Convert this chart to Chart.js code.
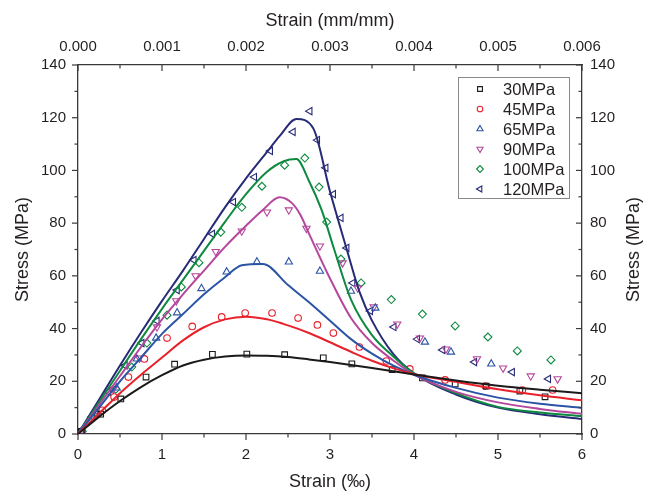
<!DOCTYPE html>
<html>
<head>
<meta charset="utf-8">
<script src="https://cdn.jsdelivr.net/npm/chart.js@4/dist/chart.umd.min.js"></script>
<style>
    html, body { margin: 0; padding: 0; background: #fff; }
    #wrap { width: 656px; height: 495px; }
</style>
</head>
<body>
<div id="wrap"><canvas id="stress-chart" width="656" height="495"></canvas></div>
<script>
// tick labels
var strainTicks = [0, 1, 2, 3, 4, 5, 6];
var strainMmTicks = ['0.000', '0.001', '0.002', '0.003', '0.004', '0.005', '0.006'];
var stressTicks = [0, 20, 40, 60, 80, 100, 120, 140];

var seriesLabels = ['30MPa', '45MPa', '65MPa', '90MPa', '100MPa', '120MPa'];

// model curves, [strain (‰), stress (MPa)]
var model30 = [[0,0],[0.25,6.5],[0.5,12.5],[0.75,17.8],[1,22.3],[1.25,26],[1.5,28.2],[1.75,29.4],[2,29.8],[2.25,29.7],[2.5,29.2],[2.75,28.3],[3,27.3],[3.25,26.2],[3.5,25],[3.75,23.8],[4,22.6],[4.5,20.3],[5,18.3],[5.5,16.8],[6,15.5]];
var model45 = [[0,0],[0.25,7.8],[0.5,15.5],[0.75,22.5],[1,29],[1.25,35.5],[1.5,40.5],[1.75,43.5],[2,44.5],[2.25,43.5],[2.5,41.2],[2.75,38.3],[3,34.8],[3.25,31.2],[3.5,27.8],[3.75,25],[4,22.8],[4.5,19.8],[5,17],[5.5,14.7],[6,12.8]];
var model65 = [[0,0],[0.25,10],[0.5,20],[0.75,29],[1,38],[1.25,45.5],[1.5,53],[1.75,59.5],[1.95,64],[2.2,64.5],[2.5,56.5],[2.75,50],[3,43],[3.25,36],[3.5,30.5],[3.75,26],[4,22.5],[4.5,17.5],[5,13.8],[5.5,11.5],[6,9.9]];
var model90 = [[0,0],[0.25,11],[0.5,22],[0.75,33],[1,43.5],[1.25,53],[1.5,62],[1.75,71],[2,79],[2.2,85],[2.4,89.8],[2.55,87.5],[2.65,83],[2.75,76],[3,59],[3.25,44],[3.5,34.5],[3.75,28],[4,22.5],[4.5,16],[5,12],[5.5,9.5],[6,7.6]];
var model100 = [[0,0],[0.25,12],[0.5,24],[0.75,36],[1,47.5],[1.25,58.5],[1.5,69.5],[1.75,80.5],[2,91],[2.25,99.5],[2.45,103.5],[2.6,104.3],[2.75,96],[2.9,85],[3.05,70],[3.25,51],[3.5,37.5],[3.75,29.5],[4,23],[4.5,15.5],[5,10.3],[5.5,8.2],[6,6.8]];
var model120 = [[0,0],[0.25,13],[0.5,26],[0.75,38.5],[1,50.5],[1.25,62],[1.5,74],[1.75,86],[2,97],[2.25,107],[2.4,113],[2.6,119.5],[2.8,116],[3,92],[3.2,70],[3.35,54],[3.5,43],[3.75,30.5],[4,23],[4.5,15],[5,10],[5.5,7.5],[6,5.7]];

// test points
var test30 = [[0.04,1],[0.27,7.5],[0.51,13.3],[0.81,21.6],[1.15,26.5],[1.6,30.2],[2.01,30.3],[2.46,30.1],[2.92,28.9],[3.26,26.6],[3.74,24.4],[4.1,21.3],[4.49,19],[4.86,18.2],[5.26,16.3],[5.56,14.1]];
var test45 = [[0.05,1],[0.29,9],[0.43,14],[0.6,21.6],[0.79,28.5],[1.06,36.4],[1.36,40.8],[1.71,44.4],[1.99,45.9],[2.31,45.9],[2.62,44],[2.85,41.4],[3.04,38.3],[3.35,33],[3.67,27.7],[3.95,24.7],[4.37,20.5],[4.85,18.2],[5.29,16.7],[5.65,16.7]];
var test65 = [[0.04,1],[0.22,8],[0.46,17.5],[0.7,28.5],[0.93,36.4],[1.18,46],[1.47,55.2],[1.77,61.5],[2.13,65.3],[2.51,65.3],[2.88,61.8],[3.25,54.2],[3.54,47.8],[4.13,34.9],[4.44,31.1],[4.92,26.6]];
var test90 = [[0.04,1],[0.2,7],[0.42,17],[0.73,28.8],[0.94,40.6],[1.17,50.5],[1.4,60],[1.64,69.2],[1.95,77],[2.25,84.2],[2.51,85],[2.72,78],[2.88,71.3],[3.15,64.9],[3.33,55.4],[3.52,48.2],[3.8,41.7],[4.07,36.4],[4.38,32.2],[4.75,28.5],[5.06,25],[5.39,22],[5.71,20.9]];
var test100 = [[0.05,1],[0.22,8],[0.45,17],[0.64,25.4],[0.82,34.5],[1.06,45.1],[1.23,55.8],[1.44,65],[1.7,76.6],[1.95,86],[2.19,94],[2.46,102],[2.7,104.7],[2.87,93.7],[2.96,80.4],[3.13,66.4],[3.37,57.3],[3.73,51],[4.1,45.5],[4.49,41],[4.88,36.8],[5.23,31.5],[5.63,28.1]];
var test120 = [[0.04,1],[0.17,6.5],[0.36,16],[0.56,26],[0.76,34.5],[0.94,42.9],[1.18,54.6],[1.38,66],[1.6,75.9],[1.85,88],[2.1,97.5],[2.29,107.4],[2.56,114.6],[2.76,122.5],[2.85,111.5],[2.95,101],[3.04,91],[3.13,82],[3.2,70.6],[3.27,57.3],[3.48,46.7],[3.76,40.6],[4.04,36],[4.34,31.9],[4.72,27.3],[5.17,23.5],[5.6,20.9]];

var models = [model30, model45, model65, model90, model100, model120];
var tests = [test30, test45, test65, test90, test100, test120];

// styles
var lineColors = ['#1c1a1a', '#e8212b', '#2c54a5', '#b4479c', '#0e8a40', '#272b75'];
var markerStyles = [
    { pointStyle: 'rect', radius: 4, rotation: 0 },
    { pointStyle: 'circle', radius: 3.3, rotation: 0 },
    { pointStyle: 'triangle', radius: 4.2, rotation: 0 },
    { pointStyle: 'triangle', radius: 4.2, rotation: 180 },
    { pointStyle: 'rectRot', radius: 4, rotation: 0 },
    { pointStyle: 'triangle', radius: 4.2, rotation: 270 }
];

var FONT = '"Liberation Sans", Arial, sans-serif';
var AXIS_COLOR = '#3b3838';
var TEXT_COLOR = '#231f20';

function toPoints(arr) {
    return arr.map(function(p) { return { x: p[0], y: p[1] }; });
}

var datasets = [];
seriesLabels.forEach(function(label, i) {
    datasets.push({
        label: label + ' model',
        data: toPoints(models[i]),
        showLine: true,
        borderColor: lineColors[i],
        borderWidth: 2,
        pointRadius: 0,
        fill: false,
        cubicInterpolationMode: 'monotone'
    });
});
seriesLabels.forEach(function(label, i) {
    datasets.push({
        label: label,
        data: toPoints(tests[i]),
        showLine: false,
        borderColor: lineColors[i],
        backgroundColor: 'rgba(0,0,0,0)',
        borderWidth: 1.1,
        pointStyle: markerStyles[i].pointStyle,
        pointRadius: markerStyles[i].radius,
        rotation: markerStyles[i].rotation
    });
});

// minor/major tick marks: outward on left/bottom, inward on top/right
var tickMarks = {
    id: 'tickMarks',
    afterDraw: function(chart) {
        var ctx = chart.ctx;
        var area = chart.chartArea;
        ctx.save();
        ctx.strokeStyle = AXIS_COLOR;
        ctx.lineWidth = 1.2;
        ['x', 'x2', 'y', 'y2'].forEach(function(id) {
            var s = chart.scales[id];
            var step = (id === 'x' || id === 'x2') ? (s.max - s.min) / 12 : 10;
            var n = Math.round((s.max - s.min) / step);
            for (var k = 0; k <= n; k++) {
                var v = s.min + k * step;
                var len = (k % 2 === 0) ? 6 : 3.5;
                var p = s.getPixelForValue(v);
                ctx.beginPath();
                if (id === 'x') { ctx.moveTo(p, area.bottom); ctx.lineTo(p, area.bottom + len); }
                if (id === 'x2') { ctx.moveTo(p, area.top); ctx.lineTo(p, area.top + len); }
                if (id === 'y') { ctx.moveTo(area.left, p); ctx.lineTo(area.left - len, p); }
                if (id === 'y2') { ctx.moveTo(area.right, p); ctx.lineTo(area.right - len, p); }
                ctx.stroke();
            }
        });
        ctx.restore();
    }
};

// right axis title reads bottom-to-top like the left one
var rightTitle = {
    id: 'rightTitle',
    afterDraw: function(chart) {
        var ctx = chart.ctx;
        var area = chart.chartArea;
        ctx.save();
        ctx.translate(634, (area.top + area.bottom) / 2);
        ctx.rotate(-Math.PI / 2);
        ctx.font = '18px ' + FONT;
        ctx.fillStyle = TEXT_COLOR;
        ctx.textAlign = 'center';
        ctx.textBaseline = 'middle';
        ctx.fillText('Stress (MPa)', 0, 0);
        ctx.restore();
    }
};

// boxed legend inside the plot
var boxLegend = {
    id: 'boxLegend',
    afterDraw: function(chart) {
        var ctx = chart.ctx;
        ctx.save();
        ctx.strokeStyle = '#8a8a8a';
        ctx.lineWidth = 1;
        ctx.strokeRect(458.5, 77.5, 111, 121);
        ctx.font = '16.5px ' + FONT;
        ctx.textBaseline = 'middle';
        ctx.textAlign = 'left';
        seriesLabels.forEach(function(label, i) {
            var y = 89 + i * 20;
            ctx.strokeStyle = lineColors[i];
            ctx.fillStyle = 'rgba(0,0,0,0)';
            ctx.lineWidth = 1.1;
            Chart.helpers.drawPoint(ctx, {
                pointStyle: markerStyles[i].pointStyle,
                radius: markerStyles[i].radius * 0.85,
                rotation: markerStyles[i].rotation,
                borderWidth: 1.1
            }, 480, y);
            ctx.fillStyle = TEXT_COLOR;
            ctx.fillText(label, 503, y + 1);
        });
        ctx.restore();
    }
};

function fixSize(w, h) {
    return function(scale) {
        if (w !== null) scale.width = w;
        if (h !== null) scale.height = h;
    };
}

var tickFont = { family: FONT, size: 15 };
var titleFont = { family: FONT, size: 18 };

new Chart(document.getElementById('stress-chart'), {
    type: 'scatter',
    data: { datasets: datasets },
    plugins: [tickMarks, rightTitle, boxLegend],
    options: {
        responsive: false,
        animation: false,
        layout: { padding: 0 },
        plugins: { legend: { display: false }, tooltip: { enabled: false } },
        scales: {
            x: {
                type: 'linear', position: 'bottom', min: 0, max: 6,
                afterFit: fixSize(null, 61),
                afterBuildTicks: function(s) { s.ticks = strainTicks.map(function(v) { return { value: v }; }); },
                grid: { display: false, drawTicks: false },
                border: { display: true, color: AXIS_COLOR, width: 1.3 },
                ticks: { font: tickFont, color: TEXT_COLOR, padding: 12, maxRotation: 0 },
                title: { display: true, text: 'Strain (‰)', font: titleFont, color: TEXT_COLOR, padding: { top: 0, bottom: 2 } }
            },
            x2: {
                type: 'linear', position: 'top', min: 0, max: 0.006,
                afterFit: fixSize(null, 65),
                afterBuildTicks: function(s) { s.ticks = strainTicks.map(function(v) { return { value: v / 1000 }; }); },
                grid: { display: false, drawTicks: false },
                border: { display: true, color: AXIS_COLOR, width: 1.3 },
                ticks: {
                    font: tickFont, color: TEXT_COLOR, padding: 9, maxRotation: 0,
                    callback: function(v, idx) { return strainMmTicks[idx]; }
                },
                title: { display: true, text: 'Strain (mm/mm)', font: titleFont, color: TEXT_COLOR, padding: { top: 10, bottom: 0 } }
            },
            y: {
                type: 'linear', position: 'left', min: 0, max: 140,
                afterFit: fixSize(78, null),
                afterBuildTicks: function(s) { s.ticks = stressTicks.map(function(v) { return { value: v }; }); },
                grid: { display: false, drawTicks: false },
                border: { display: true, color: AXIS_COLOR, width: 1.3 },
                ticks: { font: tickFont, color: TEXT_COLOR, padding: 12 },
                title: { display: true, text: 'Stress (MPa)', font: titleFont, color: TEXT_COLOR, padding: { top: 12, bottom: 0 } }
            },
            y2: {
                type: 'linear', position: 'right', min: 0, max: 140,
                afterFit: fixSize(74, null),
                afterBuildTicks: function(s) { s.ticks = stressTicks.map(function(v) { return { value: v }; }); },
                grid: { display: false, drawTicks: false },
                border: { display: true, color: AXIS_COLOR, width: 1.3 },
                ticks: { font: tickFont, color: TEXT_COLOR, padding: 8 },
                title: { display: false }
            }
        }
    }
});
</script>
</body>
</html>
